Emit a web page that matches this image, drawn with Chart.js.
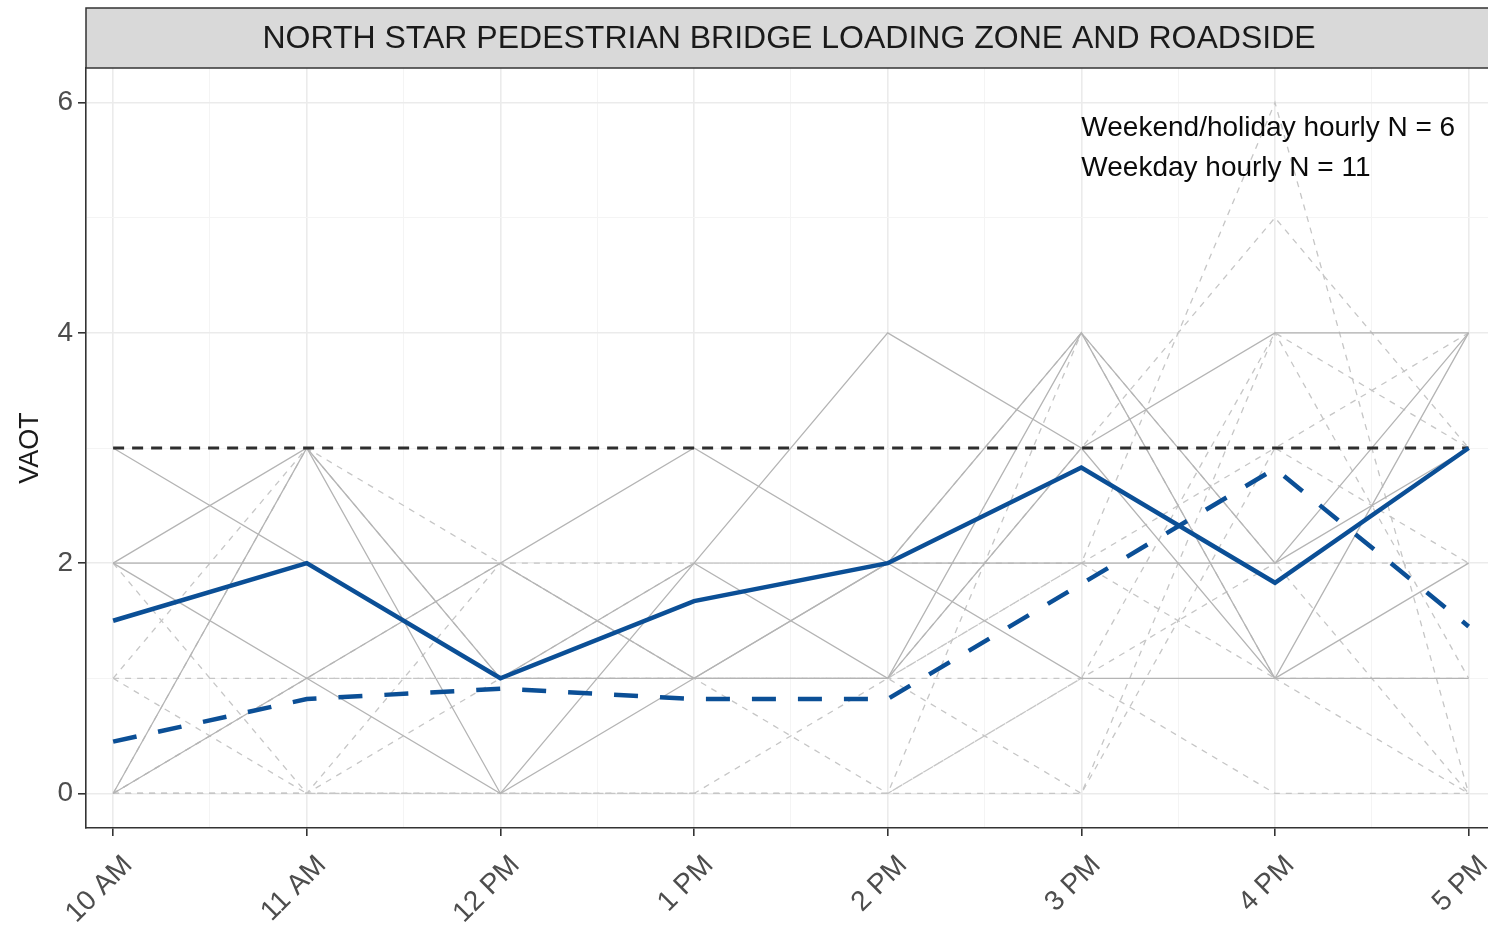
<!DOCTYPE html>
<html>
<head>
<meta charset="utf-8">
<title>North Star Pedestrian Bridge VAOT</title>
<script src="https://cdn.jsdelivr.net/npm/chart.js@4.4.0/dist/chart.umd.min.js"></script>
<style>
  html, body { margin: 0; padding: 0; background: #fff; }
  canvas { display: block; }
</style>
</head>
<body>
<canvas id="vaotChart" width="1488" height="930"></canvas>
<script>
// hours on the x axis
const hours = ['10 AM', '11 AM', '12 PM', '1 PM', '2 PM', '3 PM', '4 PM', '5 PM'];

// individual weekend/holiday days (solid grey), N = 6
const weekendHourly = [
  [3, 2, 2, 3, 2, 2, 2, 4],
  [2, 3, 0, 2, 4, 3, 4, 4],
  [2, 2, 1, 2, 1, 4, 2, 3],
  [2, 1, 2, 1, 2, 1, 1, 4],
  [0, 3, 1, 1, 1, 3, 1, 2],
  [0, 1, 0, 1, 2, 4, 1, 1]
];

// individual weekdays (dashed grey), N = 11
const weekdayHourly = [
  [2, 0, 0, 0, 0, 4, 1, 0],
  [1, 3, 2, 1, 1, 2, 6, 0],
  [1, 1, 1, 1, 1, 3, 5, 3],
  [1, 0, 0, 0, 1, 0, 4, 1],
  [0, 3, 1, 2, 2, 2, 3, 2],
  [0, 1, 2, 1, 0, 1, 4, 3],
  [0, 1, 1, 1, 1, 1, 0, 0],
  [0, 0, 2, 2, 2, 4, 2, 0],
  [0, 0, 1, 1, 1, 2, 1, 1],
  [0, 0, 0, 0, 0, 0, 3, 4],
  [0, 0, 0, 0, 0, 1, 2, 2]
];

// hourly means
const weekendMean = [1.5, 2, 1, 1.67, 2, 2.83, 1.83, 3];
const weekdayMean = [0.45, 0.82, 0.91, 0.82, 0.82, 1.82, 2.82, 1.45];

// reference level
const targetLine = [3, 3, 3, 3, 3, 3, 3, 3];

const yTicks = [0, 1, 2, 3, 4, 5, 6];
const noteLines = ['Weekend/holiday hourly N = 6', 'Weekday hourly N = 11'];
const stripTitle = 'NORTH STAR PEDESTRIAN BRIDGE LOADING ZONE AND ROADSIDE';

Chart.defaults.font.family = '"Liberation Sans", Arial, sans-serif';

const toPoints = arr => arr.map((v, i) => ({ x: i, y: v }));

const datasets = [];
weekdayHourly.forEach(row => datasets.push({
  data: toPoints(row), borderColor: '#C6C6C6', borderWidth: 1.3, borderDash: [6, 6], order: 6
}));
weekendHourly.forEach(row => datasets.push({
  data: toPoints(row), borderColor: '#B4B4B4', borderWidth: 1.3, order: 5
}));
datasets.push({ data: toPoints(targetLine), borderColor: '#2E2E2E', borderWidth: 2.8, borderDash: [11, 8], order: 3 });
datasets.push({ data: toPoints(weekdayMean), borderColor: '#0B4F96', borderWidth: 4.5, borderDash: [24, 22], order: 2 });
datasets.push({ data: toPoints(weekendMean), borderColor: '#0B4F96', borderWidth: 4.5, order: 1 });

const isMajorY = v => v % 2 === 0;

const stripPlugin = {
  id: 'strip',
  afterDraw(chart) {
    const { ctx, chartArea } = chart;
    const x = chartArea.left, w = chart.width - x + 4;
    ctx.save();
    ctx.fillStyle = '#D9D9D9';
    ctx.fillRect(x, 8, w, chartArea.top - 8);
    ctx.strokeStyle = '#333333';
    ctx.lineWidth = 1.5;
    ctx.strokeRect(x, 8, w, chartArea.top - 8);
    ctx.fillStyle = '#1A1A1A';
    ctx.font = '32px "Liberation Sans", Arial, sans-serif';
    ctx.textAlign = 'center';
    ctx.textBaseline = 'middle';
    ctx.fillText(stripTitle, (chartArea.left + chartArea.right) / 2 + 2, (8 + chartArea.top) / 2 + 1);

    // N note in the panel
    const xs = chart.scales.x, ys = chart.scales.y;
    ctx.fillStyle = '#0A0A0A';
    ctx.font = '28px "Liberation Sans", Arial, sans-serif';
    ctx.textAlign = 'left';
    ctx.fillText(noteLines[0], xs.getPixelForValue(5), ys.getPixelForValue(5.78));
    ctx.fillText(noteLines[1], xs.getPixelForValue(5), ys.getPixelForValue(5.43));
    ctx.restore();
  }
};

new Chart(document.getElementById('vaotChart').getContext('2d'), {
  type: 'line',
  data: { datasets: datasets },
  plugins: [stripPlugin],
  options: {
    responsive: false,
    animation: false,
    events: [],
    layout: { padding: { top: 68, left: 0, right: 0, bottom: 0 } },
    elements: { point: { radius: 0 }, line: { tension: 0 } },
    plugins: { legend: { display: false }, tooltip: { enabled: false } },
    scales: {
      x: {
        type: 'linear',
        min: -0.14,
        max: 7.1,
        afterBuildTicks: s => {
          s.ticks = [];
          for (let v = 0; v <= 7; v += 0.5) s.ticks.push({ value: v });
        },
        afterFit: s => { s.height = 102; s.paddingLeft = 0; s.paddingRight = 0; },
        ticks: {
          autoSkip: false,
          minRotation: 45,
          maxRotation: 45,
          color: '#4D4D4D',
          font: { size: 28 },
          padding: 13,
          labelOffset: 15,
          callback: v => Number.isInteger(v) ? hours[v] : ''
        },
        grid: {
          color: c => c.tick && !Number.isInteger(c.tick.value) ? '#F4F4F4' : '#EBEBEB',
          lineWidth: c => c.tick && !Number.isInteger(c.tick.value) ? 1 : 1.6,
          tickColor: c => c.tick && !Number.isInteger(c.tick.value) ? 'rgba(0,0,0,0)' : '#333333',
          tickLength: 8
        },
        border: { color: '#333333', width: 1.6 }
      },
      y: {
        min: -0.3,
        max: 6.3,
        afterBuildTicks: s => { s.ticks = yTicks.map(v => ({ value: v })); },
        afterFit: s => { s.width = 86; },
        ticks: {
          color: '#4D4D4D',
          font: { size: 28 },
          padding: 5,
          callback: v => isMajorY(v) ? String(v) : ''
        },
        grid: {
          color: c => c.tick && !isMajorY(c.tick.value) ? '#F4F4F4' : '#EBEBEB',
          lineWidth: c => c.tick && !isMajorY(c.tick.value) ? 1 : 1.6,
          tickColor: c => c.tick && !isMajorY(c.tick.value) ? 'rgba(0,0,0,0)' : '#333333',
          tickLength: 8
        },
        border: { color: '#333333', width: 1.6 },
        title: {
          display: true,
          text: 'VAOT',
          color: '#1A1A1A',
          font: { size: 27 },
          padding: { top: 14, bottom: 0 }
        }
      }
    }
  }
});
</script>
</body>
</html>
